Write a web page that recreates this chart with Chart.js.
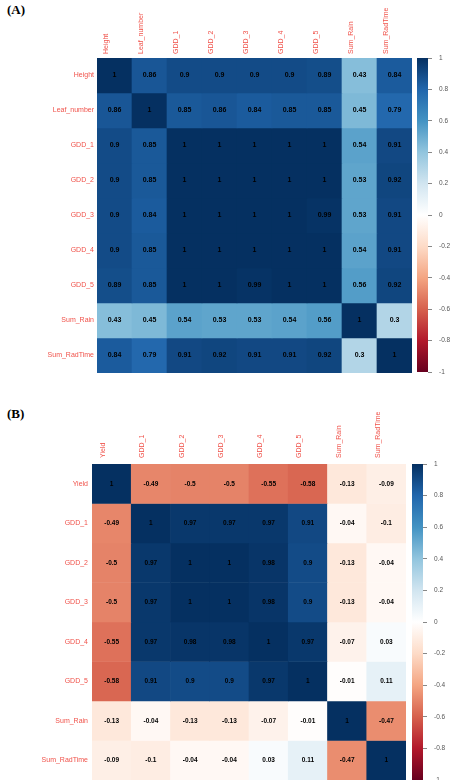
<!DOCTYPE html>
<html>
<head>
<meta charset="utf-8">
<script src="https://cdn.jsdelivr.net/npm/chart.js@4.4.0/dist/chart.umd.min.js"></script>
<style>
  body { margin: 0; background: #fff; }
  #page { position: relative; width: 451px; height: 780px; overflow: hidden; }
  canvas, .tag { position: absolute; }
  .tag { font: bold 13px "Liberation Serif", "Times New Roman", serif; color: #000; }
</style>
</head>
<body>
<div id="page">
  <div class="tag" style="left:7px; top:2px">(A)</div>
  <canvas id="heatA" width="412" height="373" style="left:0; top:0"></canvas>
  <canvas id="barA" width="41" height="385" style="left:410px; top:0"></canvas>
  <div class="tag" style="left:7px; top:406px">(B)</div>
  <canvas id="heatB" width="406" height="385" style="left:0; top:395px"></canvas>
  <canvas id="barB" width="46" height="385" style="left:405px; top:395px"></canvas>
</div>
<script>
// variables and correlation values, panel A
const varsA = ["Height", "Leaf_number", "GDD_1", "GDD_2", "GDD_3", "GDD_4", "GDD_5", "Sum_Rain", "Sum_RadTime"];
const corrA = [
  [1, 0.86, 0.9, 0.9, 0.9, 0.9, 0.89, 0.43, 0.84],
  [0.86, 1, 0.85, 0.86, 0.84, 0.85, 0.85, 0.45, 0.79],
  [0.9, 0.85, 1, 1, 1, 1, 1, 0.54, 0.91],
  [0.9, 0.85, 1, 1, 1, 1, 1, 0.53, 0.92],
  [0.9, 0.84, 1, 1, 1, 1, 0.99, 0.53, 0.91],
  [0.9, 0.85, 1, 1, 1, 1, 1, 0.54, 0.91],
  [0.89, 0.85, 1, 1, 0.99, 1, 1, 0.56, 0.92],
  [0.43, 0.45, 0.54, 0.53, 0.53, 0.54, 0.56, 1, 0.3],
  [0.84, 0.79, 0.91, 0.92, 0.91, 0.91, 0.92, 0.3, 1]
];

// panel B
const varsB = ["Yield", "GDD_1", "GDD_2", "GDD_3", "GDD_4", "GDD_5", "Sum_Rain", "Sum_RadTime"];
const corrB = [
  [1, -0.49, -0.5, -0.5, -0.55, -0.58, -0.13, -0.09],
  [-0.49, 1, 0.97, 0.97, 0.97, 0.91, -0.04, -0.1],
  [-0.5, 0.97, 1, 1, 0.98, 0.9, -0.13, -0.04],
  [-0.5, 0.97, 1, 1, 0.98, 0.9, -0.13, -0.04],
  [-0.55, 0.97, 0.98, 0.98, 1, 0.97, -0.07, 0.03],
  [-0.58, 0.91, 0.9, 0.9, 0.97, 1, -0.01, 0.11],
  [-0.13, -0.04, -0.13, -0.13, -0.07, -0.01, 1, -0.47],
  [-0.09, -0.1, -0.04, -0.04, 0.03, 0.11, -0.47, 1]
];

// colour key range
const keyMin = -1;
const keyMax = 1;
const keyStep = 0.2;

// RdBu palette, -1 -> 1
const rdbu = ["#67001F", "#B2182B", "#D6604D", "#F4A582", "#FDDBC7", "#FFFFFF",
  "#D1E5F0", "#92C5DE", "#4393C3", "#2166AC", "#053061"];

const labelRed = "#f0524a";
const sans = "'Liberation Sans', Arial, sans-serif";

function hexToRgb(h) {
  return [1, 3, 5].map((k) => parseInt(h.slice(k, k + 2), 16));
}

function colorFor(v) {
  const t = ((v - keyMin) / (keyMax - keyMin)) * (rdbu.length - 1);
  const i = Math.min(Math.floor(t), rdbu.length - 2);
  const f = t - i;
  const a = hexToRgb(rdbu[i]);
  const b = hexToRgb(rdbu[i + 1]);
  const c = a.map((x, k) => Math.round(x + (b[k] - x) * f));
  return `rgb(${c[0]}, ${c[1]}, ${c[2]})`;
}

// write the value in the middle of each cell
const cellText = {
  id: "cellText",
  afterDatasetsDraw(chart, args, opts) {
    const ctx = chart.ctx;
    ctx.save();
    ctx.font = `bold ${opts.size}px ${sans}`;
    ctx.fillStyle = "#000";
    ctx.textAlign = "center";
    ctx.textBaseline = "middle";
    chart.data.datasets.forEach((ds, i) => {
      chart.getDatasetMeta(i).data.forEach((bar, j) => {
        ctx.fillText(String(ds.values[j]), bar.x, (bar.y + bar.base) / 2);
      });
    });
    ctx.restore();
  },
};

function drawHeatmap(id, names, matrix, axisW, axisH, textSize, xPad, yPad) {
  new Chart(document.getElementById(id), {
    type: "bar",
    data: {
      labels: names,
      datasets: matrix.map((row, i) => ({
        values: row,
        data: row.map(() => [i - 0.5, i + 0.5]),
        backgroundColor: row.map(colorFor),
        borderWidth: 0,
        grouped: false,
        barPercentage: 1,
        categoryPercentage: 1,
      })),
    },
    options: {
      responsive: false,
      animation: false,
      layout: { padding: 0 },
      plugins: {
        legend: { display: false },
        tooltip: { enabled: false },
        cellText: { size: textSize },
      },
      scales: {
        x: {
          position: "top",
          grid: { display: false, drawTicks: false },
          border: { display: false },
          ticks: {
            autoSkip: false,
            minRotation: 90,
            maxRotation: 90,
            padding: xPad,
            color: labelRed,
            font: { size: 7, family: sans },
          },
          afterFit: (s) => {
            s.height = axisH;
            s.paddingLeft = 0;
            s.paddingRight = 0;
          },
        },
        y: {
          reverse: true,
          min: -0.5,
          max: names.length - 0.5,
          grid: { display: false, drawTicks: false },
          border: { display: false },
          afterBuildTicks: (s) => {
            s.ticks = names.map((_, i) => ({ value: i }));
          },
          ticks: {
            autoSkip: false,
            padding: yPad,
            color: labelRed,
            font: { size: 7, family: sans },
            callback: (v) => names[v],
          },
          afterFit: (s) => {
            s.width = axisW;
            s.paddingTop = 0;
            s.paddingBottom = 0;
          },
        },
      },
    },
    plugins: [cellText],
  });
}

function drawKey(id, pad, axisW) {
  new Chart(document.getElementById(id), {
    type: "bar",
    data: {
      labels: [""],
      datasets: [
        {
          data: [[keyMin, keyMax]],
          backgroundColor: (c) => {
            const area = c.chart.chartArea;
            if (!area) return null;
            const g = c.chart.ctx.createLinearGradient(0, area.bottom, 0, area.top);
            rdbu.forEach((col, k) => g.addColorStop(k / (rdbu.length - 1), col));
            return g;
          },
          borderWidth: 0,
          barPercentage: 1,
          categoryPercentage: 1,
        },
      ],
    },
    options: {
      responsive: false,
      animation: false,
      layout: { padding: pad },
      plugins: { legend: { display: false }, tooltip: { enabled: false } },
      scales: {
        x: { display: false },
        y: {
          position: "right",
          min: keyMin,
          max: keyMax,
          border: { display: false },
          grid: { drawOnChartArea: false, tickLength: 4, color: "#888" },
          ticks: {
            stepSize: keyStep,
            autoSkip: false,
            padding: 7,
            color: "#555",
            font: { size: 6.5, family: sans },
            callback: (v) => String(+v.toFixed(1)),
          },
          afterFit: (s) => {
            s.width = axisW;
            s.paddingTop = 0;
            s.paddingBottom = 0;
          },
        },
      },
    },
  });
}

drawHeatmap("heatA", varsA, corrA, 97, 58, 7, 4, 3);
drawKey("barA", { left: 7, top: 58, bottom: 13, right: 0 }, 23);

drawHeatmap("heatB", varsB, corrB, 92, 69, 6.5, 6, 4);
drawKey("barB", { left: 7, top: 69, bottom: 0, right: 0 }, 28);
</script>
</body>
</html>
